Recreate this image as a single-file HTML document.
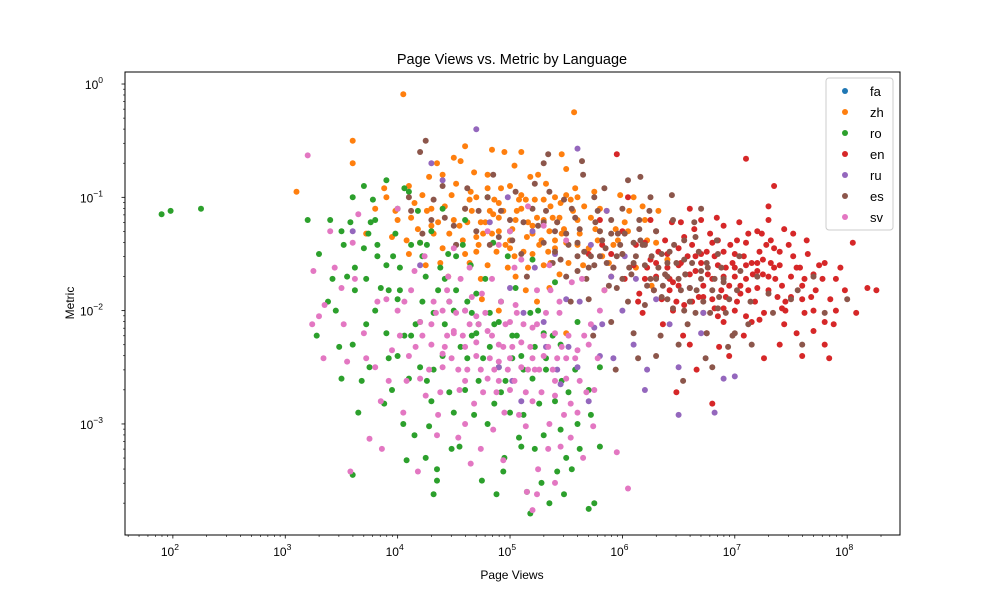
<!DOCTYPE html>
<html><head><meta charset="utf-8">
<style>
html,body{margin:0;padding:0;background:#fff;}
svg{display:block;font-family:"Liberation Sans","DejaVu Sans",sans-serif;}
</style></head>
<body>
<svg id="chart" width="1000" height="600" viewBox="0 0 1000 600">
<rect x="0" y="0" width="1000" height="600" fill="#fff"/>
<text x="512" y="64" text-anchor="middle" font-size="14.5" fill="#000">Page Views vs. Metric by Language</text>
<text x="512" y="579" text-anchor="middle" font-size="12" fill="#000">Page Views</text>
<text x="74" y="303" text-anchor="middle" font-size="12" fill="#000" transform="rotate(-90 74 303)">Metric</text>
<g id="points"></g>
<g id="axes"></g>
<g id="legend"></g>
</svg>
<script>
// log10 values
const faLogViews=[];
const faLogMetric=[];
const zhLogViews=[4.5,4.7,4.9,5.1,5.3,5.5,4.3,4.1,4.6,4.8,5.0,5.2,5.4,5.6,5.8,6.0,6.2,4.2,4.4,4.0,3.9,3.6,3.6,3.1,4.05,5.57,4.95,4.6,5.1,4.45,4.75,5.05,5.35,5.65,5.9,4.25,4.55,4.85,5.15,5.45,5.75,6.1,6.3,3.95,4.35,4.65,4.9,5.25,5.5,5.7,4.1,4.3,4.7,5.0,5.3,5.6,4.5,4.8,5.2,5.4,5.8,6.05,4.15,4.4,4.6,5.05,5.35,4.9,5.5,3.8,
4.12,4.22,4.32,4.42,4.52,4.62,4.72,4.82,4.92,5.02,5.12,5.22,5.32,5.42,5.52,5.62,5.72,5.82,5.92,6.02,6.12,6.22,6.32,4.38,4.58,4.78,4.98,5.18,5.38,5.58,5.78,5.98,4.18,4.48,4.68,4.88,5.08,5.28,5.48,5.68,5.88,6.18,4.28,4.08,3.98,3.88,3.72,4.74,5.14,5.44,5.84,6.4,4.56,5.04,5.46,4.84,6.26,5.24,4.64,5.94,
4.66,4.76,4.86,4.96,5.06,5.16,5.26,5.36,5.46,5.56,4.7,4.8,4.9,5.0,5.1,5.2,5.3,5.4,5.5,5.6,4.64,4.74,4.84,4.94,5.04,5.14,5.24,5.34,5.44,5.54,5.66,5.76,5.86,5.96,6.06,4.36,4.46,4.26,5.16,5.36];
const zhLogMetric=[-1.2,-1.0,-1.3,-1.1,-1.2,-1.4,-1.1,-0.9,-1.5,-0.8,-0.9,-1.5,-1.0,-1.2,-1.3,-1.5,-1.2,-1.4,-0.8,-1.2,-1.0,-0.7,-0.5,-0.95,-0.09,-0.25,-0.6,-0.55,-0.6,-1.7,-1.9,-1.7,-1.8,-1.6,-1.7,-1.6,-1.25,-1.15,-1.35,-1.05,-0.95,-1.0,-1.4,-1.35,-0.7,-0.95,-1.05,-0.8,-0.75,-1.45,-1.5,-1.25,-1.35,-1.45,-1.6,-1.0,-0.65,-1.6,-1.25,-1.45,-1.1,-1.3,-1.05,-1.45,-1.1,-1.2,-1.3,-2.0,-2.2,-1.1,
-1.18,-0.98,-1.32,-1.08,-0.88,-1.22,-1.42,-1.12,-0.92,-1.28,-1.48,-1.02,-0.88,-1.22,-1.58,-1.32,-1.18,-1.52,-1.42,-1.22,-1.62,-1.38,-1.12,-1.58,-1.38,-1.22,-1.62,-0.82,-1.18,-0.92,-1.38,-0.98,-1.28,-0.98,-0.78,-1.48,-1.02,-1.38,-1.28,-1.48,-1.58,-1.08,-0.82,-1.38,-1.12,-0.92,-1.32,-1.72,-1.82,-1.68,-1.82,-1.55,-0.68,-0.72,-0.62,-0.58,-1.78,-1.92,-1.58,-1.28,
-1.12,-1.32,-1.02,-1.42,-1.12,-1.22,-1.42,-1.08,-1.32,-1.12,-1.48,-0.92,-1.18,-1.38,-0.98,-1.32,-1.02,-1.38,-0.98,-1.42,-1.02,-1.22,-1.32,-1.12,-1.52,-1.02,-1.18,-1.48,-1.18,-1.02,-1.08,-1.28,-1.12,-1.38,-1.12,-1.22,-1.32,-1.12,-1.62,-1.58];
const roLogViews=[1.9,1.98,2.25,3.3,3.5,3.6,3.7,3.8,3.9,4.0,4.1,4.2,4.3,3.45,3.6,3.75,3.9,4.0,4.1,4.2,4.3,4.4,4.5,4.6,4.7,4.8,4.9,5.0,5.1,5.2,5.3,5.4,5.5,5.6,5.7,3.5,3.55,3.65,3.7,3.85,3.95,4.05,4.15,4.25,4.35,4.45,4.55,4.65,4.75,4.85,4.95,5.05,5.15,5.25,5.35,5.45,5.55,5.7,5.75,5.8,4.35,4.0,3.8,4.6,4.8,5.0,5.2,5.4,5.6,5.8,3.4,3.2,3.6,4.5,4.9,5.1,5.3,4.7,4.4,4.2,3.9,4.25,5.45,
3.42,3.52,3.62,3.72,3.82,3.92,4.02,4.12,4.22,4.32,4.42,4.52,4.62,4.72,4.82,4.92,5.02,5.12,5.22,5.32,5.42,5.52,5.62,5.72,3.58,3.78,3.98,4.18,4.38,4.58,4.78,4.98,5.18,5.38,5.58,3.68,3.88,4.08,4.28,4.48,4.68,4.88,5.08,5.28,5.48,5.18,4.32,3.48,3.38,3.28,3.74,4.06,4.26,4.46,4.66,4.86,5.06,5.26,5.46,4.94,
3.62,3.82,4.02,4.22,4.42,4.62,4.82,5.02,5.22,3.72,3.92,4.12,4.32,4.52,4.72,4.92,5.12,5.32,3.76,3.96,4.16,4.36,4.56,4.76,4.96,4.06,4.26,4.46,4.66,4.86];
const roLogMetric=[-1.15,-1.12,-1.1,-1.5,-1.3,-1.0,-0.9,-1.2,-1.6,-1.1,-0.95,-1.4,-1.3,-2.0,-2.3,-2.5,-2.2,-1.9,-2.6,-2.1,-2.8,-2.4,-2.0,-2.7,-2.2,-3.0,-2.5,-2.9,-3.2,-2.6,-3.1,-2.8,-3.3,-3.0,-2.7,-2.6,-1.7,-2.9,-1.45,-1.8,-2.7,-3.0,-3.1,-1.7,-3.4,-1.5,-3.2,-1.6,-3.5,-1.4,-3.3,-1.8,-3.6,-2.0,-3.7,-2.3,-3.4,-3.75,-3.7,-3.2,-3.5,-2.4,-2.0,-1.2,-1.0,-1.3,-1.55,-1.75,-2.1,-2.5,-1.2,-1.2,-3.45,-2.9,-2.1,-2.4,-2.2,-1.85,-1.1,-2.5,-0.85,-3.3,-3.05,
-1.72,-1.42,-1.82,-2.12,-1.52,-2.42,-1.62,-2.22,-1.92,-2.52,-2.12,-1.82,-2.42,-2.62,-2.32,-2.72,-2.42,-2.92,-3.22,-2.52,-3.42,-2.72,-3.22,-2.92,-1.22,-1.02,-1.32,-1.12,-1.62,-1.42,-1.72,-1.52,-2.02,-2.22,-2.52,-2.62,-2.82,-3.32,-3.02,-3.22,-2.92,-3.62,-3.12,-3.52,-3.62,-3.79,-3.62,-2.32,-1.92,-2.22,-1.32,-0.92,-1.42,-1.92,-2.02,-2.12,-2.22,-2.82,-2.62,-3.42,
-1.62,-1.42,-1.82,-1.52,-1.72,-1.92,-2.02,-2.22,-2.32,-1.72,-1.82,-1.42,-2.02,-1.52,-2.12,-1.92,-2.52,-2.42,-1.22,-1.52,-2.12,-1.82,-2.32,-2.42,-2.62,-2.22,-2.62,-2.72,-2.22,-2.82];
const enLogViews=[6.5,6.7,6.9,7.1,7.3,6.6,6.8,7.0,7.2,7.4,6.4,6.3,6.2,6.1,6.0,5.9,7.5,7.6,7.7,7.8,7.85,8.05,8.18,7.9,7.0,6.9,6.75,6.6,6.8,7.1,7.2,7.3,7.1,7.35,6.95,6.8,6.9,6.55,6.45,6.35,6.25,6.05,5.95,6.6,7.55,7.45,7.25,7.05,6.85,6.65,6.45,6.15,7.65,7.6,7.4,7.15,6.7,6.5,7.35,7.0,6.3,7.8,7.75,6.55,6.85,7.1,6.25,5.7,5.8,7.2,
6.22,6.32,6.42,6.52,6.62,6.72,6.82,6.92,7.02,7.12,7.22,7.32,7.42,7.52,7.62,7.72,6.28,6.38,6.48,6.58,6.68,6.78,6.88,6.98,7.08,7.18,7.28,7.38,7.48,7.58,7.68,7.78,7.88,7.98,8.08,6.12,6.02,5.92,5.82,6.18,6.36,6.54,6.72,6.9,7.08,7.26,7.44,7.62,6.44,6.64,6.84,7.04,7.24,7.44,7.64,6.76,6.96,7.16,7.36,6.56,6.86,7.26,7.7,6.66,6.48,6.14,7.94,8.26,7.84,7.3,
6.6,6.7,6.8,6.9,7.0,7.1,7.2,7.3,7.4,7.5,6.65,6.75,6.85,6.95,7.05,7.15,7.25,7.35,7.45,7.55,6.4,6.5,6.3,6.2,7.6,7.7,7.8,6.62,6.82,7.02,7.22,7.42,6.72,6.92,7.12,7.32,6.52,6.42,7.52,7.9];
const enLogMetric=[-1.6,-1.5,-1.7,-1.6,-1.7,-1.8,-1.4,-1.5,-1.8,-1.6,-1.5,-1.7,-1.4,-1.6,-1.3,-1.5,-1.7,-1.9,-2.0,-2.1,-1.9,-1.4,-1.8,-2.0,-2.0,-2.1,-2.2,-2.3,-1.9,-1.4,-1.3,-1.2,-0.66,-0.9,-2.4,-2.82,-1.25,-1.35,-2.0,-1.9,-1.2,-1.0,-0.62,-1.1,-2.2,-2.0,-1.55,-1.85,-1.6,-1.65,-1.75,-1.85,-1.5,-2.4,-2.3,-2.1,-1.2,-1.45,-1.45,-1.7,-1.3,-2.3,-1.6,-1.95,-2.05,-2.05,-1.55,-1.5,-1.2,-1.65,
-1.62,-1.48,-1.72,-1.58,-1.42,-1.78,-1.52,-1.62,-1.38,-1.82,-1.48,-1.58,-1.78,-1.52,-1.72,-1.82,-1.82,-1.38,-1.92,-1.52,-1.88,-1.32,-1.82,-1.58,-1.52,-1.92,-1.42,-1.88,-1.42,-1.62,-1.88,-1.72,-2.12,-1.82,-2.02,-1.42,-1.72,-1.62,-1.42,-2.02,-2.12,-2.22,-2.02,-1.98,-2.22,-2.02,-2.12,-2.02,-1.22,-1.28,-1.18,-1.22,-1.32,-1.28,-1.38,-1.68,-1.42,-1.68,-1.72,-1.68,-2.32,-2.42,-2.18,-2.52,-2.72,-1.92,-1.62,-1.82,-2.42,-1.08,
-1.68,-1.58,-1.72,-1.48,-1.62,-1.72,-1.58,-1.82,-1.48,-1.88,-1.52,-1.48,-1.38,-1.78,-1.78,-1.58,-1.68,-1.62,-1.92,-1.62,-1.62,-1.78,-1.58,-1.72,-1.78,-1.68,-1.58,-1.92,-1.98,-1.92,-2.08,-1.98,-1.88,-1.88,-1.32,-1.38,-1.22,-1.82,-1.32,-1.72];
const ruLogViews=[4.7,5.6,4.3,5.5,6.1,6.5,6.7,6.9,7.0,6.5,5.8,5.3,5.0,4.6,4.2,3.6,5.7,6.2,5.9,6.3,5.2,4.9,5.4,6.0,5.75,5.6,4.4,5.1,6.6,5.45,
5.22,5.52,5.82,6.12,6.42,4.82,5.12,5.62,5.92,6.22,4.52,5.72,6.02,5.42,6.82,5.32,4.98,5.86,6.72,5.02];
const ruLogMetric=[-0.4,-0.57,-0.7,-1.9,-2.3,-2.5,-2.2,-2.6,-2.58,-2.92,-2.4,-2.1,-1.8,-2.0,-1.6,-1.3,-2.8,-2.7,-1.7,-1.9,-1.3,-2.5,-1.5,-2.0,-2.15,-2.5,-0.85,-2.8,-1.8,-2.65,
-1.62,-2.32,-2.12,-1.72,-2.12,-1.22,-2.02,-1.92,-2.42,-2.52,-1.42,-1.42,-1.52,-2.52,-2.9,-2.32,-1.0,-1.12,-2.02,-2.62];
const esLogViews=[5.6,5.8,6.0,6.2,6.4,6.6,5.4,5.2,5.0,4.8,4.6,4.4,4.2,4.25,5.3,5.55,5.75,5.95,6.15,6.35,6.55,6.75,6.95,7.15,7.5,7.7,8.0,6.3,6.1,5.9,5.7,5.5,5.1,4.9,4.7,4.5,4.3,4.1,5.3,5.65,6.05,6.25,6.45,6.65,6.85,7.05,7.3,6.5,6.8,5.85,5.45,5.25,5.05,4.85,6.7,6.9,6.4,6.2,5.6,6.0,6.3,6.7,5.35,5.15,7.0,6.55,7.2,6.1,5.9,5.75,
5.42,5.52,5.62,5.72,5.82,5.92,6.02,6.12,6.22,6.32,6.42,6.52,6.62,6.72,6.82,6.92,7.02,7.12,5.48,5.58,5.68,5.78,5.88,5.98,6.08,6.18,6.28,6.38,6.48,6.58,6.68,6.78,6.88,6.98,5.02,5.12,5.22,4.92,4.82,4.72,4.62,4.52,4.42,4.32,4.22,4.12,5.32,5.38,6.14,6.34,6.54,6.74,6.94,7.14,7.34,7.56,7.8,7.6,5.74,5.94,5.54,6.24,6.44,5.84,6.64,6.84,7.04,5.64,5.34,6.16,
5.66,5.76,5.86,5.96,6.06,6.16,6.26,6.36,6.46,6.56,6.66,6.76,6.86,5.7,5.8,5.9,6.0,6.1,6.2,6.3,6.4,6.5,6.6,6.7,6.8,6.9,5.6,5.5,5.4,5.3,6.05,6.25,6.45,6.65,6.85,5.95,6.15,6.35,6.55,6.75];
const esLogMetric=[-1.4,-1.3,-1.5,-1.6,-1.7,-1.8,-1.3,-1.1,-1.2,-1.0,-1.1,-0.9,-0.6,-0.5,-0.7,-1.1,-1.6,-1.8,-1.2,-1.5,-2.0,-2.2,-1.9,-2.3,-1.9,-1.7,-1.9,-2.4,-2.2,-2.1,-1.9,-1.7,-1.5,-1.35,-1.3,-1.25,-1.2,-1.0,-1.4,-0.8,-0.85,-1.0,-1.2,-1.35,-1.5,-1.65,-1.85,-2.3,-2.5,-1.45,-1.55,-1.25,-0.95,-0.8,-1.65,-1.75,-1.9,-1.95,-1.65,-1.1,-1.3,-1.1,-0.95,-1.7,-2.2,-1.55,-1.7,-1.4,-1.2,-1.0,
-1.22,-1.42,-1.28,-1.52,-1.38,-1.62,-1.32,-1.52,-1.78,-1.62,-1.48,-1.82,-1.58,-1.92,-1.72,-2.02,-1.82,-2.12,-1.02,-1.18,-1.72,-1.12,-1.78,-1.42,-1.68,-1.42,-1.82,-1.68,-1.58,-2.12,-1.48,-2.02,-1.62,-2.22,-1.38,-1.22,-0.88,-1.12,-1.42,-1.12,-0.92,-1.42,-1.18,-1.02,-1.32,-1.12,-1.12,-1.58,-2.42,-2.22,-2.62,-2.42,-2.32,-1.92,-2.02,-1.82,-2.02,-2.3,-2.22,-2.52,-1.92,-1.12,-0.98,-0.92,-1.22,-1.38,-1.52,-0.68,-0.62,-0.82,
-1.48,-1.22,-1.58,-1.32,-1.62,-1.38,-1.52,-1.78,-1.42,-1.68,-1.82,-1.62,-1.88,-1.62,-1.52,-1.32,-1.72,-1.58,-1.42,-1.72,-1.58,-1.72,-1.92,-1.72,-1.82,-1.72,-1.52,-1.32,-1.48,-1.22,-1.92,-1.72,-1.98,-2.02,-1.98,-1.52,-1.28,-1.88,-1.38,-1.58];
const svLogViews=[3.2,3.25,3.35,3.5,3.6,3.7,3.8,3.75,3.85,3.9,4.0,4.1,4.2,4.3,4.4,4.5,4.6,4.7,4.8,4.9,5.0,5.1,5.2,5.3,5.4,5.5,5.6,5.7,5.8,6.05,5.95,5.65,5.45,5.25,5.15,5.2,4.65,4.35,4.05,3.55,4.15,4.45,4.75,5.05,5.35,5.55,4.95,4.55,4.25,3.95,4.85,5.35,5.75,4.5,4.8,5.1,5.3,3.65,3.4,4.0,4.7,5.0,5.2,4.4,4.6,4.9,5.4,5.6,3.3,4.2,
4.22,4.32,4.42,4.52,4.62,4.72,4.82,4.92,5.02,5.12,5.22,5.32,5.42,5.52,5.62,5.72,4.28,4.38,4.48,4.58,4.68,4.78,4.88,4.98,5.08,5.18,5.28,5.38,5.48,5.58,5.68,5.78,3.52,3.62,3.72,3.82,3.92,4.02,4.12,4.08,4.54,4.74,4.94,5.14,5.34,5.54,5.74,5.24,5.4,4.84,5.04,5.24,5.44,5.64,5.84,4.64,4.44,4.24,3.44,3.34,3.58,3.86,4.18,4.36,4.6,5.0,5.16,4.9,5.5,3.24,
4.3,4.4,4.5,4.6,4.7,4.8,4.9,5.0,5.1,5.2,5.3,5.4,5.5,4.34,4.44,4.54,4.64,4.74,4.84,4.94,5.04,5.14,5.24,5.34,5.44,5.54,4.46,4.66,4.86,5.06,5.26,5.46,4.56,4.76,4.96,5.16,5.36,4.16,4.06,5.66];
const svLogMetric=[-0.63,-1.65,-1.95,-1.8,-1.4,-2.2,-2.5,-3.13,-2.8,-1.9,-2.0,-2.4,-2.1,-2.3,-2.5,-2.2,-2.0,-2.4,-2.6,-2.3,-2.1,-2.5,-2.8,-2.4,-2.2,-2.6,-2.9,-2.3,-2.0,-3.57,-3.25,-3.3,-3.2,-3.4,-3.6,-3.76,-3.35,-3.1,-2.9,-2.45,-1.65,-1.7,-1.85,-1.95,-1.6,-1.75,-2.9,-2.7,-2.75,-2.35,-3.05,-3.0,-2.7,-1.45,-1.3,-1.55,-1.25,-1.15,-1.3,-1.1,-2.05,-2.7,-2.15,-2.0,-3.0,-2.45,-2.75,-2.35,-2.05,-2.6,
-2.22,-1.92,-2.32,-2.02,-2.52,-2.12,-2.42,-1.92,-2.32,-2.12,-2.52,-2.02,-2.42,-2.22,-2.62,-2.12,-2.52,-2.72,-2.42,-2.22,-2.82,-2.02,-2.72,-2.52,-2.92,-2.32,-2.72,-2.52,-2.92,-2.42,-2.72,-2.42,-2.12,-1.72,-2.42,-1.92,-2.62,-2.22,-1.82,-2.62,-3.12,-3.22,-3.32,-3.02,-3.22,-3.12,-3.02,-3.62,-3.52,-1.72,-1.62,-1.82,-1.92,-1.72,-1.82,-1.62,-1.82,-1.52,-1.62,-2.42,-3.42,-3.22,-3.42,-2.92,-2.62,-1.3,-1.08,-1.42,-1.38,-2.12,
-2.12,-2.38,-2.18,-2.32,-2.28,-2.18,-2.62,-2.42,-2.28,-2.42,-2.22,-2.62,-2.42,-2.02,-2.22,-2.52,-2.12,-2.52,-2.22,-2.32,-2.62,-2.72,-2.12,-2.32,-2.02,-2.82,-1.92,-1.88,-2.52,-2.02,-2.52,-2.32,-1.72,-2.72,-2.12,-2.52,-1.82,-2.32,-1.92,-2.22];
const xTickExps=[2,3,4,5,6,7,8];
const yTickExps=[0,-1,-2,-3];
const legendLabels=['fa','zh','ro','en','ru','es','sv'];

const NS='http://www.w3.org/2000/svg';
const L=125,R=900,T=72,B=535;
const xMin=1.574,xMax=8.47,yMin=-3.98,yMax=0.106;
function xs(v){return L+(v-xMin)/(xMax-xMin)*(R-L);}
function ys(v){return B-(v-yMin)/(yMax-yMin)*(B-T);}
function mk(tag,attrs,parent){const e=document.createElementNS(NS,tag);for(const k in attrs)e.setAttribute(k,attrs[k]);parent.appendChild(e);return e;}

const series=[
 ['fa','#1f77b4',faLogViews,faLogMetric],
 ['zh','#ff7f0e',zhLogViews,zhLogMetric],
 ['ro','#2ca02c',roLogViews,roLogMetric],
 ['en','#d62728',enLogViews,enLogMetric],
 ['ru','#9467bd',ruLogViews,ruLogMetric],
 ['es','#8c564b',esLogViews,esLogMetric],
 ['sv','#e377c2',svLogViews,svLogMetric]];
const pg=document.getElementById('points');
series.forEach(s=>{
  const g=mk('g',{fill:s[1]},pg);
  
  
  s[2].forEach((v,i)=>{
    const c=mk('circle',{cx:xs(v).toFixed(1),cy:ys(s[3][i]).toFixed(1),r:3},g);
    
    
  });
});

const ax=document.getElementById('axes');
const frame=mk('rect',{x:L,y:T,width:R-L,height:B-T,fill:'none',stroke:'#000','stroke-width':1},ax);


for(let d=1;d<=8;d++){for(let m=1;m<10;m++){const v=d+Math.log10(m);if(v<xMin||v>xMax)continue;const x=xs(v);
  const t=mk('line',{x1:x,x2:x,y1:B,y2:B+(m===1?3.5:2),stroke:'#000','stroke-width':m===1?0.8:0.6},ax);
  
  }}
for(let d=-4;d<=0;d++){for(let m=1;m<10;m++){const v=d+Math.log10(m);if(v<yMin||v>yMax)continue;const y=ys(v);
  const t=mk('line',{x1:L-(m===1?3.5:2),x2:L,y1:y,y2:y,stroke:'#000','stroke-width':m===1?0.8:0.6},ax);
  
  }}
xTickExps.forEach(e=>{
  const t=mk('text',{x:xs(e)-3,y:B+21,'text-anchor':'middle','font-size':12,fill:'#000'},ax);
  
  
  t.textContent='10';
  const s=mk('tspan',{'font-size':8.5,dy:-6},t);s.textContent=String(e);
});
yTickExps.forEach(e=>{
  const t=mk('text',{x:L-22,y:ys(e)+5,'text-anchor':'end','font-size':12,fill:'#000'},ax);
  
  
  t.textContent='10';
  const s=mk('tspan',{'font-size':8.5,dy:-6},t);s.textContent=e===0?'0':'\u2212'+String(-e);
});

const lg=document.getElementById('legend');
const box=mk('rect',{x:826,y:78,width:67,height:152,rx:3,fill:'#fff','fill-opacity':0.8,stroke:'#ccc'},lg);


legendLabels.forEach((lab,i)=>{
  const y=91+i*21;
  const g=mk('g',{},lg);
  
  
  mk('circle',{cx:845,cy:y,r:3,fill:series[i][1]},g);
  const t=mk('text',{x:870,y:y+5,'font-size':13,fill:'#000'},g);
  t.textContent=lab;
});
</script>
</body></html>
